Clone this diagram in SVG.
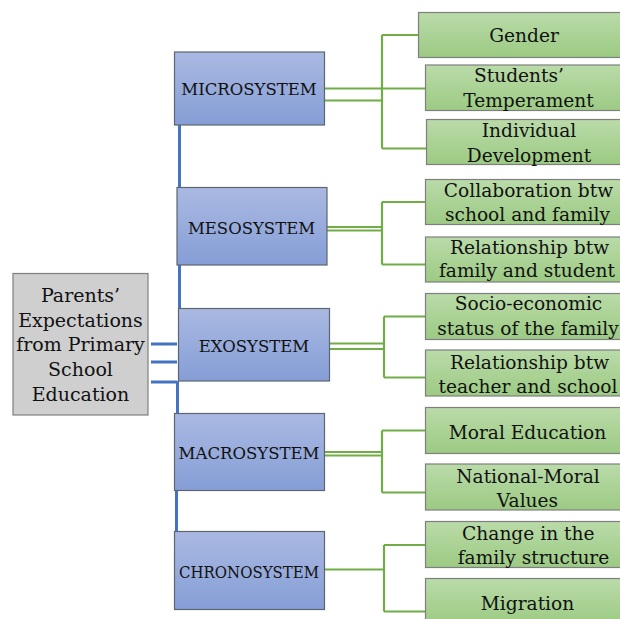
<svg xmlns="http://www.w3.org/2000/svg" width="620" height="619" viewBox="0 0 620 619">
  <style>
    .sys rect { fill: url(#gBlue); stroke: #5E6470; stroke-width: 1.2; }
    .leaf rect { fill: url(#gGreen); stroke: #7F7F7F; stroke-width: 1.2; }
    .root rect { fill: #CFCFCF; stroke: #7F7F7F; stroke-width: 1.2; }
    text { font-family: "DejaVu Serif", "Liberation Serif", serif; fill: #111; text-anchor: middle; }
    .sys text { font-size: 16.5px; }
    .leaf text { font-size: 18.6px; }
    .root text { font-size: 19px; }
    .blue { stroke: #4472C4; stroke-width: 3; fill: none; }
    .green { stroke: #70AD47; stroke-width: 2.2; fill: none; }
  </style>
  <defs>
    <linearGradient id="gBlue" x1="0" y1="0" x2="0" y2="1">
      <stop offset="0" stop-color="#AAB9E2"/>
      <stop offset="1" stop-color="#859ED6"/>
    </linearGradient>
    <linearGradient id="gGreen" x1="0" y1="0" x2="0" y2="1">
      <stop offset="0" stop-color="#BADBA9"/>
      <stop offset="1" stop-color="#9CCA83"/>
    </linearGradient>
  </defs>

  <rect width="620" height="619" fill="#FFFFFF"/>

  <!-- connectors -->
  <g id="connectors">
    <!-- trunk from the root to the five systems -->
    <path class="blue" d="M179.5 125 V188 M179.5 265 V309 M177.5 381 V414 M176.5 491 V531"/>
    <path class="blue" d="M151 344 H177 M151 362 H177 M151 382 H177" stroke-width="2.5"/>
    <!-- microsystem -->
    <path class="green" d="M324 88.5 H425 M324 100.5 H382 M382 35 V148.5 M382 35 H418 M382 148.5 H426"/>
    <!-- mesosystem -->
    <path class="green" d="M327 227 H382 M327 230.5 H382 M382 202 V264.5 M382 202 H425 M382 264.5 H425"/>
    <!-- exosystem -->
    <path class="green" d="M329 343.5 H384 M329 349 H384 M384 316.5 V377.5 M384 316.5 H425 M384 377.5 H425"/>
    <!-- macrosystem -->
    <path class="green" d="M324 452 H382 M324 455.5 H382 M382 430.5 V492.5 M382 430.5 H425 M382 492.5 H425"/>
    <!-- chronosystem -->
    <path class="green" d="M324 569.5 H384" stroke-width="3.4"/>
    <path class="green" d="M384 545 V611.5 M384 545 H425 M384 611.5 H425"/>
  </g>

  <!-- root node -->
  <g id="root" class="root">
    <rect x="13" y="273.5" width="135" height="141.5"/>
    <text x="80.5" y="302">Parents’</text>
    <text x="80.5" y="327">Expectations</text>
    <text x="80.5" y="351">from Primary</text>
    <text x="80.5" y="376">School</text>
    <text x="80.5" y="401">Education</text>
  </g>

  <!-- systems -->
  <g id="microsystem" class="sys">
    <rect x="174.5" y="52" width="150" height="73"/>
    <text x="249" y="95">MICROSYSTEM</text>
  </g>
  <g id="mesosystem" class="sys">
    <rect x="177" y="187.5" width="150" height="77.5"/>
    <text x="251.5" y="233.5">MESOSYSTEM</text>
  </g>
  <g id="exosystem" class="sys">
    <rect x="178.5" y="308.5" width="151" height="72.5"/>
    <text x="254" y="351.5">EXOSYSTEM</text>
  </g>
  <g id="macrosystem" class="sys">
    <rect x="174.5" y="413.5" width="150" height="77"/>
    <text x="249" y="459">MACROSYSTEM</text>
  </g>
  <g id="chronosystem" class="sys">
    <rect x="174.5" y="531.5" width="150" height="78"/>
    <text x="249" y="577.5" textLength="140" lengthAdjust="spacingAndGlyphs">CHRONOSYSTEM</text>
  </g>

  <!-- factors -->
  <g id="gender" class="leaf">
    <rect x="418.5" y="12.5" width="212" height="45"/>
    <text x="524" y="42">Gender</text>
  </g>
  <g id="temperament" class="leaf">
    <rect x="425.5" y="65" width="206" height="45.5"/>
    <text x="519" y="82">Students’</text>
    <text x="528.5" y="107">Temperament</text>
  </g>
  <g id="individual-development" class="leaf">
    <rect x="426.5" y="119.5" width="206" height="45"/>
    <text x="529" y="137">Individual</text>
    <text x="529" y="161.5">Development</text>
  </g>
  <g id="collaboration" class="leaf">
    <rect x="425.5" y="179.5" width="206" height="45"/>
    <text x="528.5" y="197">Collaboration btw</text>
    <text x="527.5" y="220.5">school and family</text>
  </g>
  <g id="family-student" class="leaf">
    <rect x="425.5" y="237" width="206" height="45"/>
    <text x="529.5" y="253.5">Relationship btw</text>
    <text x="527" y="277">family and student</text>
  </g>
  <g id="socio-economic" class="leaf">
    <rect x="425.5" y="293.5" width="206" height="46"/>
    <text x="528.5" y="309.5">Socio-economic</text>
    <text x="528" y="335">status of the family</text>
  </g>
  <g id="teacher-school" class="leaf">
    <rect x="425.5" y="350" width="206" height="46"/>
    <text x="529.5" y="368.5">Relationship btw</text>
    <text x="528" y="393">teacher and school</text>
  </g>
  <g id="moral-education" class="leaf">
    <rect x="425.5" y="407.5" width="206" height="46"/>
    <text x="527.5" y="438.5">Moral Education</text>
  </g>
  <g id="national-moral" class="leaf">
    <rect x="425.5" y="464" width="206" height="46"/>
    <text x="528" y="483">National-Moral</text>
    <text x="527.5" y="507">Values</text>
  </g>
  <g id="family-structure" class="leaf">
    <rect x="425.5" y="521.5" width="206" height="46"/>
    <text x="528.3" y="540">Change in the</text>
    <text x="533.5" y="563.5">family structure</text>
  </g>
  <g id="migration" class="leaf">
    <rect x="425.5" y="578.5" width="206" height="46"/>
    <text x="527.5" y="610">Migration</text>
  </g>
</svg>
